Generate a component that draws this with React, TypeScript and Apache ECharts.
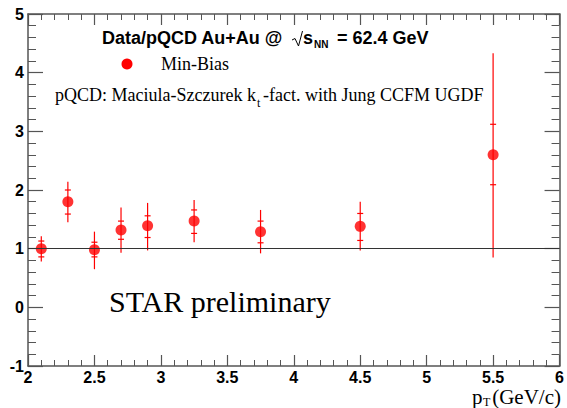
import React, { useEffect, useRef } from "react";
import * as echarts from "echarts";

// pT bin centers (GeV/c)
const ptValues = [2.1, 2.3, 2.5, 2.7, 2.9, 3.25, 3.75, 4.5, 5.5];
// Data/pQCD ratio
const ratioValues = [1.0, 1.8, 0.98, 1.32, 1.39, 1.47, 1.29, 1.38, 2.6];
// outer error bar extents (low, high)
const outerLow = [0.78, 1.45, 0.65, 0.93, 0.97, 1.11, 0.92, 0.97, 0.85];
const outerHigh = [1.21, 2.14, 1.29, 1.7, 1.78, 1.83, 1.66, 1.8, 4.33];
// inner error marks (low, high)
const innerLow = [0.86, 1.59, 0.86, 1.16, 1.19, 1.26, 1.1, 1.14, 2.09];
const innerHigh = [1.13, 2.0, 1.11, 1.47, 1.56, 1.66, 1.47, 1.6, 3.12];

const xTicks = { min: 2, max: 6, interval: 0.5 };
const yTicks = { min: -1, max: 5, interval: 1 };

const SANS = "'Liberation Sans', Arial, Helvetica, sans-serif";
const SERIF = "'Liberation Serif', 'Times New Roman', serif";
const RED = "#ff0000";
const AXIS = "#555555";

export default function App() {
  const ref = useRef<HTMLDivElement>(null);
  useEffect(() => {
    document.body.style.margin = "0";
    if (!ref.current) return;
    const chart = echarts.init(ref.current, null, { renderer: "svg" });

    const errData = ptValues.map((x, i) => [x, outerLow[i], outerHigh[i], innerLow[i], innerHigh[i]]);
    const points = ptValues.map((x, i) => [x, ratioValues[i]]);

    const baseX = {
      type: "value",
      min: xTicks.min,
      max: xTicks.max,
      interval: xTicks.interval,
      axisLine: { show: true, onZero: false, lineStyle: { color: AXIS, width: 1.5 } },
      axisTick: { show: true, inside: true, length: 11, lineStyle: { color: AXIS, width: 1.2 } },
      minorTick: { show: true, splitNumber: 5, length: 6, lineStyle: { color: AXIS, width: 1 } },
      splitLine: { show: false },
    };
    const baseY = {
      type: "value",
      min: yTicks.min,
      max: yTicks.max,
      interval: yTicks.interval,
      axisLine: { show: true, onZero: false, lineStyle: { color: AXIS, width: 1.5 } },
      axisTick: { show: true, inside: true, length: 15, lineStyle: { color: AXIS, width: 1.2 } },
      minorTick: { show: true, splitNumber: 5, length: 8, lineStyle: { color: AXIS, width: 1 } },
      splitLine: { show: false },
    };

    const option: any = {
      animation: false,
      backgroundColor: "#ffffff",
      grid: { left: 28, right: 5, top: 14, bottom: 42, containLabel: false },
      xAxis: [
        {
          ...baseX,
          position: "bottom",
          axisLabel: {
            show: true,
            margin: 3,
            color: "#000",
            fontFamily: SANS,
            fontWeight: "bold",
            fontSize: 16,
            lineHeight: 16,
            formatter: (v: number) => String(v),
          },
        },
        { ...baseX, position: "top", axisLabel: { show: false } },
      ],
      yAxis: [
        {
          ...baseY,
          position: "left",
          axisLabel: {
            show: true,
            margin: 4,
            color: "#000",
            fontFamily: SANS,
            fontWeight: "bold",
            fontSize: 16,
            formatter: (v: number) => String(v),
          },
        },
        { ...baseY, position: "right", axisLabel: { show: false } },
      ],
      series: [
        {
          type: "custom",
          xAxisIndex: 0,
          yAxisIndex: 0,
          data: errData,
          renderItem: (params: any, api: any) => {
            const x = api.value(0);
            const pLo = api.coord([x, api.value(1)]);
            const pHi = api.coord([x, api.value(2)]);
            const iLo = api.coord([x, api.value(3)]);
            const iHi = api.coord([x, api.value(4)]);
            const style = { stroke: RED, lineWidth: 1.2 };
            const cw = 3;
            return {
              type: "group",
              children: [
                { type: "line", shape: { x1: pLo[0], y1: pLo[1], x2: pHi[0], y2: pHi[1] }, style },
                { type: "line", shape: { x1: iLo[0] - cw, y1: iLo[1], x2: iLo[0] + cw, y2: iLo[1] }, style },
                { type: "line", shape: { x1: iHi[0] - cw, y1: iHi[1], x2: iHi[0] + cw, y2: iHi[1] }, style },
              ],
            };
          },
          z: 3,
        },
        {
          type: "line",
          data: [],
          markLine: {
            silent: true,
            symbol: "none",
            label: { show: false },
            lineStyle: { color: "#333", width: 1.2, type: "solid" },
            data: [{ yAxis: 1 }],
          },
          z: 2,
        },
        {
          type: "scatter",
          data: points,
          symbol: "circle",
          symbolSize: 11,
          itemStyle: { color: RED },
          z: 4,
        },
      ],
      graphic: [
        {
          type: "text",
          left: 102,
          top: 29,
          style: { text: "Data/pQCD Au+Au @", font: `bold 18px ${SANS}`, fill: "#000" },
        },
        {
          type: "polyline",
          shape: { points: [[292, 40], [295, 38.5], [298.5, 46], [302.5, 31]] },
          style: { stroke: "#000", lineWidth: 1, fill: "none" },
        },
        {
          type: "text",
          left: 303,
          top: 29,
          style: { text: "s", font: `bold 18px ${SANS}`, fill: "#000" },
        },
        {
          type: "text",
          left: 314,
          top: 39,
          style: { text: "NN", font: `bold 10px ${SANS}`, fill: "#000" },
        },
        {
          type: "text",
          left: 337,
          top: 29,
          style: { text: "= 62.4 GeV", font: `bold 18px ${SANS}`, fill: "#000" },
        },
        {
          type: "circle",
          shape: { cx: 127, cy: 64, r: 5.5 },
          style: { fill: RED },
        },
        {
          type: "text",
          left: 161,
          top: 55,
          style: { text: "Min-Bias", font: `18px ${SERIF}`, fill: "#000" },
        },
        {
          type: "text",
          left: 55,
          top: 86,
          style: { text: "pQCD: Maciula-Szczurek k", font: `18px ${SERIF}`, fill: "#000" },
        },
        {
          type: "text",
          left: 257,
          top: 97,
          style: { text: "t", font: `12px ${SERIF}`, fill: "#000" },
        },
        {
          type: "text",
          left: 263,
          top: 86,
          style: { text: "-fact. with Jung CCFM UGDF", font: `18px ${SERIF}`, fill: "#000" },
        },
        {
          type: "text",
          left: 109,
          top: 286,
          style: { text: "STAR preliminary", font: `30px ${SERIF}`, fill: "#000" },
        },
        {
          type: "text",
          left: 472,
          top: 386,
          style: { text: "p", font: `21px ${SERIF}`, fill: "#000" },
        },
        {
          type: "text",
          left: 483,
          top: 396,
          style: { text: "T", font: `12px ${SERIF}`, fill: "#000" },
        },
        {
          type: "text",
          right: 6,
          top: 386,
          style: { text: "(GeV/c)", font: `21px ${SERIF}`, fill: "#000" },
        },
      ],
    };
    chart.setOption(option);
    return () => chart.dispose();
  }, []);
  return <div ref={ref} style={{ width: 567, height: 408 }} />;
}
